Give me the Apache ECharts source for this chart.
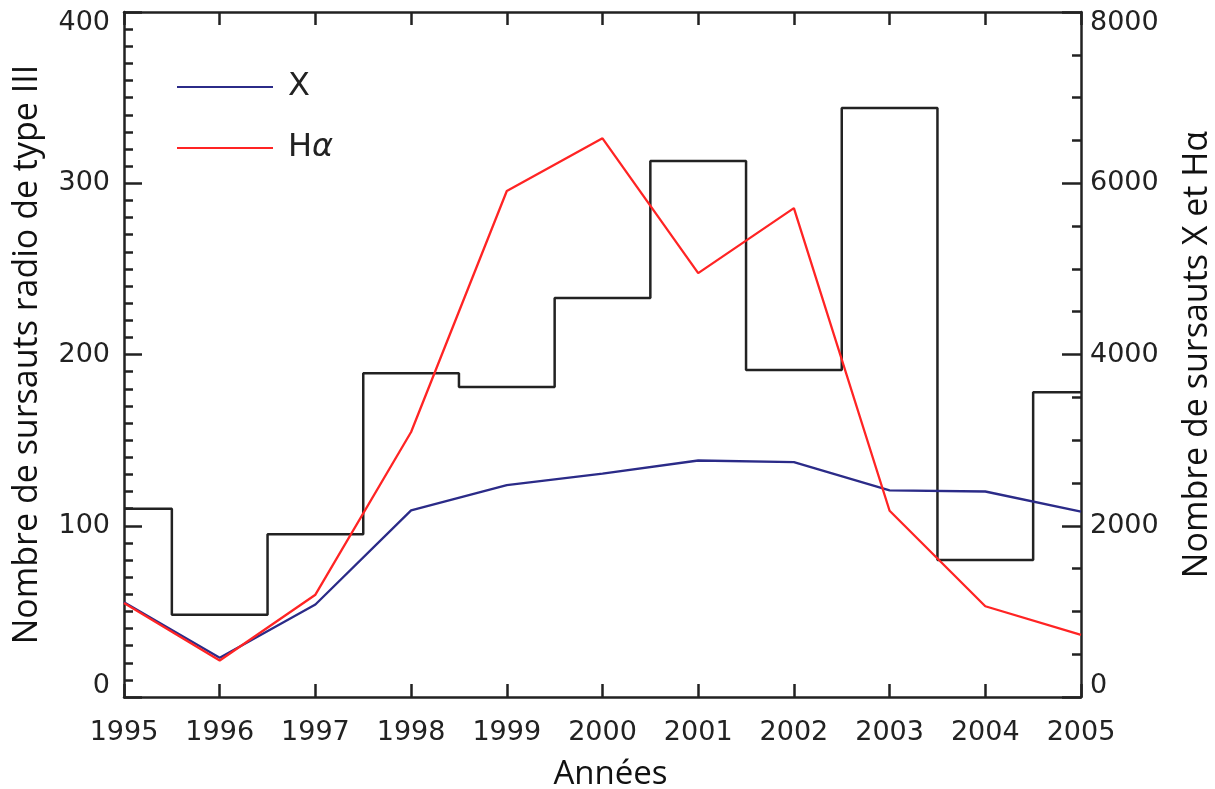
<!DOCTYPE html>
<html><head><meta charset="utf-8">
<script src="https://cdn.jsdelivr.net/npm/echarts@6/dist/echarts.min.js"></script>
<style>html,body{margin:0;padding:0;background:#fff}#c{width:1215px;height:789px}</style>
</head><body><div id="c"></div>
<script>
const years = [1995, 1996, 1997, 1998, 1999, 2000, 2001, 2002, 2003, 2004, 2005];
const typeIII = [110, 48, 95, 189, 181, 233, 313, 191, 344, 80, 178];
const xRays = [1108, 458, 1080, 2180, 2475, 2610, 2762, 2742, 2412, 2400, 2165];
const hAlpha = [1097, 427, 1195, 3095, 5910, 6525, 4950, 5710, 2175, 1060, 725];
const seriesNames = ['X', 'Hα'];
const leftMin = 0, leftMax = 400, leftStep = 100;
const rightMin = 0, rightMax = 8000, rightStep = 2000;

const INK = '#222';
const tickFont = 'DejaVu Sans';
const nameFont = 'Open Sans';
const TICK_SIZE = 27;

function edgeLabel(v, min, max) {
  if (v === max) return '{top|' + v + '}';
  if (v === min) return '{bot|' + v + '}';
  return String(v);
}
const edgeRich = {
  top: {padding: [22, 0, 0, 0], fontFamily: tickFont, fontSize: TICK_SIZE, color: INK},
  bot: {padding: [0, 0, 22, 0], fontFamily: tickFont, fontSize: TICK_SIZE, color: INK}
};
const axisLine = {show: true, onZero: false, lineStyle: {color: INK, width: 2.5}};
const tickStyle = {color: INK, width: 2.5};

const chart = echarts.init(document.getElementById('c'), null, {renderer: 'canvas'});
chart.setOption({
  animation: false,
  backgroundColor: '#fff',
  grid: {left: 124, right: 134, top: 12, bottom: 92, containLabel: false, outerBoundsMode: 'none'},
  legend: {
    orient: 'vertical', left: 172, top: 66,
    itemWidth: 96, itemHeight: 2, itemGap: 29, icon: 'rect',
    data: seriesNames,
    formatter: n => n === 'Hα' ? 'H{i|α}' : n,
    textStyle: {
      fontFamily: tickFont, fontSize: 32, color: INK, lineHeight: 32,
      padding: [0, 0, 0, 10],
      rich: {i: {fontStyle: 'italic', fontFamily: tickFont, fontSize: 32, color: INK}}
    }
  },
  xAxis: [
    {
      type: 'value', position: 'bottom', min: years[0], max: years[years.length - 1], interval: 1,
      axisLine: axisLine,
      axisTick: {show: true, inside: true, length: 13, lineStyle: tickStyle},
      axisLabel: {margin: 22, formatter: v => String(v), fontFamily: tickFont, fontSize: TICK_SIZE, color: INK},
      splitLine: {show: false},
      name: 'Années', nameLocation: 'middle', nameGap: 61,
      nameTextStyle: {fontFamily: nameFont, fontSize: 33, color: '#111', padding: [0, 0, 0, 16]}
    },
    {
      type: 'value', position: 'top', min: years[0], max: years[years.length - 1], interval: 1,
      axisLine: axisLine,
      axisTick: {show: true, inside: true, length: 13, lineStyle: tickStyle},
      axisLabel: {show: false},
      splitLine: {show: false}
    }
  ],
  yAxis: [
    {
      type: 'value', position: 'left', min: leftMin, max: leftMax, interval: leftStep,
      axisLine: axisLine,
      axisTick: {show: true, inside: true, length: 18, lineStyle: tickStyle},
      minorTick: {show: true, splitNumber: 10, length: 9, lineStyle: tickStyle},
      axisLabel: {margin: 14, formatter: v => edgeLabel(v, leftMin, leftMax), fontFamily: tickFont, fontSize: TICK_SIZE, color: INK, rich: edgeRich},
      splitLine: {show: false}, minorSplitLine: {show: false},
      name: 'Nombre de sursauts radio de type III', nameLocation: 'middle', nameGap: 72, nameRotate: 90,
      nameTextStyle: {fontFamily: nameFont, fontSize: 34, color: '#111', lineHeight: 40}
    },
    {
      type: 'value', position: 'right', min: rightMin, max: rightMax, interval: rightStep,
      axisLine: axisLine,
      axisTick: {show: true, inside: true, length: 19, lineStyle: tickStyle},
      minorTick: {show: true, splitNumber: 4, length: 9, lineStyle: tickStyle},
      axisLabel: {margin: 9, formatter: v => edgeLabel(v, rightMin, rightMax), fontFamily: tickFont, fontSize: TICK_SIZE, color: INK, rich: edgeRich},
      splitLine: {show: false}, minorSplitLine: {show: false},
      name: 'Nombre de sursauts X et Hα', nameLocation: 'middle', nameGap: 96, nameRotate: 90,
      nameTextStyle: {fontFamily: nameFont, fontSize: 34, color: '#111', lineHeight: 40}
    }
  ],
  series: [
    {
      name: 'Type III', type: 'line', step: 'middle', xAxisIndex: 0, yAxisIndex: 0,
      data: years.map((y, i) => [y, typeIII[i]]),
      symbol: 'none', color: INK, lineStyle: {color: INK, width: 2.5}, silent: true, z: 2
    },
    {
      name: seriesNames[0], type: 'line', xAxisIndex: 0, yAxisIndex: 1,
      data: years.map((y, i) => [y, xRays[i]]),
      symbol: 'none', color: '#2b2b88', lineStyle: {color: '#2b2b88', width: 2.3}, z: 3
    },
    {
      name: seriesNames[1], type: 'line', xAxisIndex: 0, yAxisIndex: 1,
      data: years.map((y, i) => [y, hAlpha[i]]),
      symbol: 'none', color: '#ff2424', lineStyle: {color: '#ff2424', width: 2.3}, z: 4
    }
  ]
});
</script>
</body></html>
